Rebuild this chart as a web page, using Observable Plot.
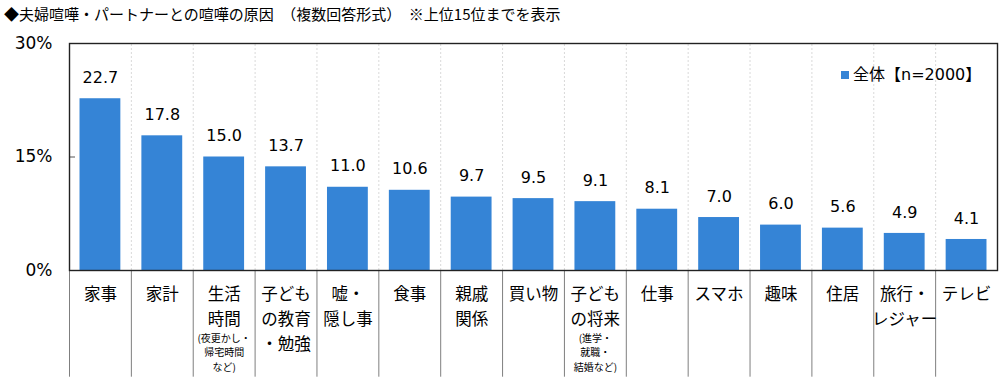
<!DOCTYPE html>
<html><head><meta charset="utf-8">
<script src="https://cdn.jsdelivr.net/npm/d3@7"></script>
<script src="https://cdn.jsdelivr.net/npm/@observablehq/plot@0.6"></script>
<style>
html,body{margin:0;padding:0;background:#fff;overflow:hidden;}
#wrap{position:relative;width:1000px;height:377px;overflow:hidden;font-family:"DejaVu Sans","Noto Sans CJK JP",sans-serif;color:#000;}
#title{position:absolute;left:4px;top:4px;font-size:15px;font-family:"Noto Sans CJK JP",sans-serif;line-height:20px;white-space:pre;}
#legend{position:absolute;left:841px;top:64px;font-size:16px;line-height:22px;white-space:pre;display:flex;align-items:center;}
#legend .sw{display:inline-block;width:8px;height:8px;margin-right:4px;}
#legend .tx{font-family:"DejaVu Sans","Noto Sans CJK JP",sans-serif;}
#chart{position:absolute;left:0;top:0;width:1000px;height:377px;}
#chart svg{display:block;max-width:none !important;width:1000px;height:377px;}
</style></head>
<body>
<div id="wrap"><div id="chart"></div><div id="title"></div><div id="legend"></div></div>
<script>
const titleText = "◆夫婦喧嘩・パートナーとの喧嘩の原因　（複数回答形式）　※上位15位までを表示";
const seriesName = "全体【n=2000】";
const categories = ["家事","家計","生活時間","子どもの教育・勉強","嘘・隠し事","食事","親戚関係","買い物","子どもの将来","仕事","スマホ","趣味","住居","旅行・レジャー","テレビ"];
const values = [22.7,17.8,15.0,13.7,11.0,10.6,9.7,9.5,9.1,8.1,7.0,6.0,5.6,4.9,4.1];
const labelMain = [["家事"],["家計"],["生活","時間"],["子ども","の教育","・勉強"],["嘘・","隠し事"],["食事"],["親戚","関係"],["買い物"],["子ども","の将来"],["仕事"],["スマホ"],["趣味"],["住居"],["旅行・","レジャー"],["テレビ"]];
const labelSub = [[],[],["(夜更かし・","帰宅時間","など)"],[],[],[],[],[],["(進学・","就職・","結婚など)"],[],[],[],[],[],[]];
const yTicks = [0,15,30];
const barColor = "#3584d6";

const W = 1000, H = 377, mL = 69, mR = 3, mT = 43, mB = 107;
const step = (W - mL - mR) / categories.length;

const rows = categories.map((c, i) => ({cat: c, value: values[i], main: labelMain[i].join("\n"), sub: labelSub[i].join("\n")}));

document.getElementById("title").textContent = titleText;
document.getElementById("legend").innerHTML = `<span class="sw" style="background:${barColor}"></span><span class="tx">${seriesName}</span>`;

const plot = Plot.plot({
  width: W, height: H,
  marginLeft: mL, marginRight: mR, marginTop: mT, marginBottom: mB,
  style: {fontFamily: '"DejaVu Sans","Noto Sans CJK JP",sans-serif', fontSize: "17px", color: "#000", background: "transparent"},
  x: {domain: categories, paddingInner: 0.34, paddingOuter: 0.17, round: false, axis: null},
  y: {domain: [0, 30], axis: null},
  marks: [
    Plot.ruleX(categories.slice(1), {x: d => d, y1: 0, y2: 30, dx: -step/2, stroke: "#d9d9d9", strokeDasharray: "2,2"}),
    Plot.barY(rows, {x: "cat", y: "value", fill: barColor}),
    Plot.text(rows, {x: "cat", y: "value", text: d => d.value.toFixed(1), dy: -21, fontSize: 16, lineAnchor: "middle", fill: "#000"}),
    Plot.ruleX(categories, {x: d => d, y1: 0, y2: -14.1, dx: -step/2, stroke: "#7f7f7f"}),
    Plot.text(rows, {x: "cat", y: 0, text: "main", lineAnchor: "top", dy: 12, fontSize: 16.5, lineHeight: 25/16.5, fontFamily: '"Noto Sans CJK JP",sans-serif', fill: "#000"}),
    Plot.text(rows, {x: "cat", y: 0, text: "sub", lineAnchor: "top", dy: 61, fontSize: 10, lineHeight: 14.5/10, fontFamily: '"Noto Sans CJK JP",sans-serif', fill: "#000"}),
    Plot.axisY(yTicks, {tickSize: 0, tickPadding: 17, tickFormat: d => d + "%", fontSize: 17, label: null}),
    Plot.axisY([15], {tickSize: -6, tickFormat: () => "", label: null, stroke: "#555"}),
    Plot.frame({stroke: "#222", strokeWidth: 1.4})
  ]
});
document.getElementById("chart").appendChild(plot);
</script>
</body></html>
